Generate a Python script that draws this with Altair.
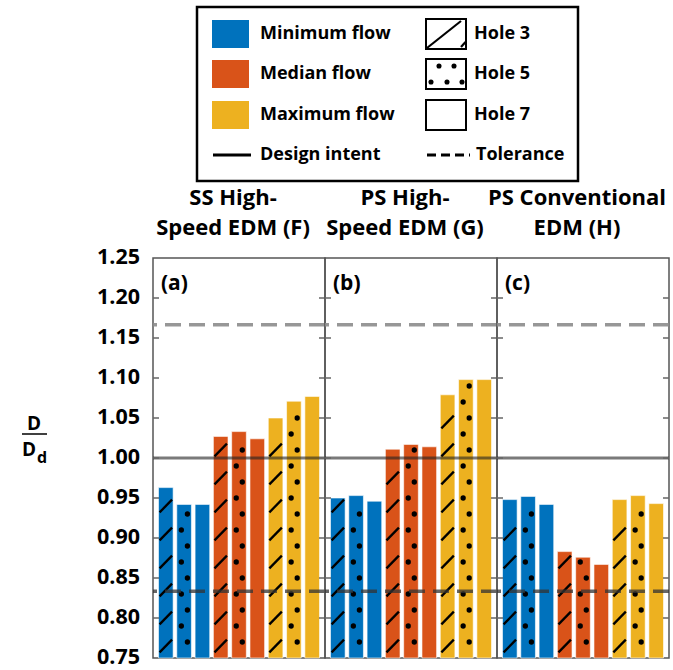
import altair as alt
import pandas as pd

# ---- data -------------------------------------------------------------
FLOWS = ["Minimum flow", "Median flow", "Maximum flow"]
HOLES = ["Hole 3", "Hole 5", "Hole 7"]
FLOW_COLORS = ["#0072BD", "#D95319", "#EDB120"]

PANEL_TITLES = [
    ["SS High-", "Speed EDM (F)"],
    ["PS High-", "Speed EDM (G)"],
    ["PS Conventional", "EDM (H)"],
]
PANEL_TAGS = ["(a)", "(b)", "(c)"]

# D / Dd, ordered flow by flow, hole 3 / 5 / 7 within each flow
SS_HIGH_SPEED_F = [0.963, 0.942, 0.942, 1.027, 1.033, 1.024, 1.050, 1.071, 1.077]
PS_HIGH_SPEED_G = [0.950, 0.953, 0.946, 1.011, 1.017, 1.014, 1.079, 1.098, 1.098]
PS_CONVENTIONAL_H = [0.948, 0.952, 0.942, 0.883, 0.876, 0.867, 0.948, 0.953, 0.943]
PANEL_VALUES = [SS_HIGH_SPEED_F, PS_HIGH_SPEED_G, PS_CONVENTIONAL_H]

DESIGN_INTENT = [1.0]
TOLERANCE_LOW = [0.8333]
TOLERANCE_HIGH = [1.1667]
Y_TICKS = [0.75, 0.80, 0.85, 0.90, 0.95, 1.00, 1.05, 1.10, 1.15, 1.20, 1.25]

LEGEND_FLOW_LABELS = FLOWS + ["Design intent"]
LEGEND_HOLE_LABELS = HOLES + ["Tolerance"]

# ---- styling / layout ---------------------------------------------------
FONT = "Open Sans"
PANEL_W, PANEL_H = 172, 400
Y_DOMAIN = [0.75, 1.25]
X_DOMAIN = [-0.7, 8.7]
HALF_BAR = 0.4
TITLE_LINE_Y = [-60, -30]   # panel title lines, px above the plot top
TITLE_SIZE = 22

XS = alt.Scale(domain=X_DOMAIN, nice=False, zero=False)
YS = alt.Scale(domain=Y_DOMAIN, nice=False, zero=False)
COLOR = alt.Scale(domain=FLOWS, range=FLOW_COLORS)

# fill-pattern geometry (data units)
SLASH_START, SLASH_STEP, SLASH_HALF_X, SLASH_HALF_Y = 0.765, 0.035, 0.34, 0.008
DOT_START, DOT_STEP = 0.77, 0.02
DOT_SHIFT = [0.18, -0.15]


def bar_table(vals):
    rows = []
    for i, v in enumerate(vals):
        f, h = divmod(i, 3)
        rows.append(dict(pos=i, flow=FLOWS[f], hole=HOLES[h], value=v))
    return pd.DataFrame(rows)


def slash_table(bars):
    rows = []
    for _, b in bars[bars.hole == "Hole 3"].iterrows():
        c = SLASH_START
        while c + SLASH_HALF_Y <= b.value:
            rows.append(dict(xa=b.pos - SLASH_HALF_X, xb=b.pos + SLASH_HALF_X,
                             ya=c - SLASH_HALF_Y, yb=c + SLASH_HALF_Y))
            c += SLASH_STEP
    return pd.DataFrame(rows)


def dot_table(bars):
    rows = []
    for _, b in bars[bars.hole == "Hole 5"].iterrows():
        k = 0
        y = DOT_START
        while y + 0.006 <= b.value:
            rows.append(dict(xd=b.pos + DOT_SHIFT[k % 2], yd=y))
            k += 1
            y = DOT_START + k * DOT_STEP
    return pd.DataFrame(rows)


def bold_text(size, align="center"):
    return dict(align=align, baseline="middle", font=FONT, fontWeight="bold",
                fontSize=size, color="black")


def panel(idx):
    bars = bar_table(PANEL_VALUES[idx])
    first = idx == 0

    bar_layer = alt.Chart(bars).transform_calculate(
        x0=f"datum.pos - {HALF_BAR}", x1=f"datum.pos + {HALF_BAR}", base="0.75"
    ).mark_rect(stroke="white", strokeWidth=0.6).encode(
        x=alt.X("x0:Q", scale=XS, axis=None),
        x2="x1:Q",
        y=alt.Y("value:Q", scale=YS, axis=None),
        y2="base:Q",
        color=alt.Color("flow:N", scale=COLOR, legend=None),
    )

    slashes = alt.Chart(slash_table(bars)).mark_rule(
        color="black", strokeWidth=2.3
    ).encode(
        x=alt.X("xa:Q", scale=XS, axis=None), x2="xb:Q",
        y=alt.Y("ya:Q", scale=YS, axis=None), y2="yb:Q",
    )

    dots = alt.Chart(dot_table(bars)).mark_circle(
        color="black", opacity=1, size=28
    ).encode(
        x=alt.X("xd:Q", scale=XS, axis=None),
        y=alt.Y("yd:Q", scale=YS, axis=None),
    )

    design = alt.Chart(pd.DataFrame({"y": DESIGN_INTENT})).mark_rule(
        color="#222222", opacity=0.6, strokeWidth=3
    ).encode(y=alt.Y("y:Q", scale=YS, axis=None))

    tol_low = alt.Chart(pd.DataFrame({"y": TOLERANCE_LOW})).mark_rule(
        color="#333333", opacity=0.75, strokeWidth=3.5, strokeDash=[16, 8]
    ).encode(y=alt.Y("y:Q", scale=YS, axis=None))

    tol_high = alt.Chart(pd.DataFrame({"y": TOLERANCE_HIGH})).mark_rule(
        color="#8c8c8c", opacity=0.9, strokeWidth=3.5, strokeDash=[16, 8]
    ).encode(y=alt.Y("y:Q", scale=YS, axis=None))

    ticks = pd.DataFrame({"t": Y_TICKS[1:-1]})
    tick_l = alt.Chart(ticks).mark_rule(color="#666666", strokeWidth=1.5).encode(
        y=alt.Y("t:Q", scale=YS, axis=None), x=alt.value(0), x2=alt.value(6))
    tick_r = alt.Chart(ticks).mark_rule(color="#666666", strokeWidth=1.5).encode(
        y=alt.Y("t:Q", scale=YS, axis=None),
        x=alt.value(PANEL_W - 6), x2=alt.value(PANEL_W))

    one = pd.DataFrame({"k": [0]})
    tag = alt.Chart(one).mark_text(**bold_text(21, "left")).encode(
        x=alt.value(8), y=alt.value(26), text=alt.value(PANEL_TAGS[idx]))

    title_lines = [
        alt.Chart(one).mark_text(**bold_text(TITLE_SIZE)).encode(
            x=alt.value(PANEL_W / 2 - 6), y=alt.value(ty), text=alt.value(line))
        for line, ty in zip(PANEL_TITLES[idx], TITLE_LINE_Y)
    ]

    layers = [bar_layer, slashes, dots, tol_low, tol_high, design,
              tick_l, tick_r, tag] + title_lines

    if first:
        # tick labels on the left of the first panel
        labels = alt.Chart(pd.DataFrame({"t": Y_TICKS})).transform_calculate(
            lbl="format(datum.t, '.2f')"
        ).mark_text(**bold_text(21.5, "right")).encode(
            y=alt.Y("t:Q", scale=YS, axis=None), x=alt.value(-13),
            text="lbl:N")
        # D / Dd axis title
        num = alt.Chart(one).mark_text(**bold_text(19)).encode(
            x=alt.value(-119), y=alt.value(166), text=alt.value("D"))
        frac = alt.Chart(one).mark_rule(color="black", strokeWidth=1.5).encode(
            x=alt.value(-131), x2=alt.value(-106), y=alt.value(176))
        den = alt.Chart(one).mark_text(**bold_text(19)).encode(
            x=alt.value(-124), y=alt.value(192), text=alt.value("D"))
        sub = alt.Chart(one).mark_text(**bold_text(16)).encode(
            x=alt.value(-111), y=alt.value(200), text=alt.value("d"))
        layers += [labels, num, frac, den, sub]

    return alt.layer(*layers).properties(width=PANEL_W, height=PANEL_H)


# ---- legend -------------------------------------------------------------
LEG_SHIFT = 44            # legend box starts this far right of panel (a)
LEG_BOX_W, LEG_H = 381, 174
LEG_W = LEG_SHIFT + LEG_BOX_W
COL_SWATCH_X = [LEG_SHIFT + 15, LEG_SHIFT + 229]
COL_TEXT_X = [LEG_SHIFT + 63, LEG_SHIFT + 279]
ROW_Y = [27, 67, 108, 148]

LX = alt.Scale(domain=[0, LEG_W], range=[0, LEG_W], nice=False, zero=False)
LY = alt.Scale(domain=[0, LEG_H], range=[0, LEG_H], nice=False, zero=False)

flow_sw = pd.DataFrame({
    "flow": FLOWS,
    "x0": [COL_SWATCH_X[0]] * 3, "x1": [COL_SWATCH_X[0] + 37] * 3,
    "y0": [r - 14 for r in ROW_Y[:3]], "y1": [r + 14 for r in ROW_Y[:3]],
})
hole_sw = pd.DataFrame({
    "hole": HOLES,
    "x0": [COL_SWATCH_X[1]] * 3, "x1": [COL_SWATCH_X[1] + 40] * 3,
    "y0": [r - 15 for r in ROW_Y[:3]], "y1": [r + 15 for r in ROW_Y[:3]],
})

hx, hy = COL_SWATCH_X[1], ROW_Y[0]
hatch_sw = pd.DataFrame({
    "xa": [hx + 1, hx + 35], "xb": [hx + 35, hx + 39.5],
    "ya": [hy + 14, hy + 13], "yb": [hy - 13, hy + 8],
})
dx_, dy_ = COL_SWATCH_X[1], ROW_Y[1] - 15
dot_sw = pd.DataFrame({
    "xd": [dx_ + 13, dx_ + 28, dx_ + 5, dx_ + 21, dx_ + 36],
    "yd": [dy_ + 7, dy_ + 7, dy_ + 23, dy_ + 23, dy_ + 23],
})
leg_text = pd.DataFrame({
    "label": LEGEND_FLOW_LABELS + LEGEND_HOLE_LABELS,
    "x": [COL_TEXT_X[0]] * 4 + [COL_TEXT_X[1] - 2] * 3 + [COL_TEXT_X[1]],
    "y": ROW_Y + ROW_Y,
})

one_row = pd.DataFrame({"k": [0]})
leg_box = alt.Chart(one_row).mark_rect(
    fill="white", stroke="black", strokeWidth=2.5
).encode(
    x=alt.value(LEG_SHIFT), x2=alt.value(LEG_W),
    y=alt.value(0), y2=alt.value(LEG_H),
)
leg_flow = alt.Chart(flow_sw).mark_rect().encode(
    x=alt.X("x0:Q", scale=LX, axis=None), x2="x1:Q",
    y=alt.Y("y0:Q", scale=LY, axis=None), y2="y1:Q",
    color=alt.Color("flow:N", scale=COLOR, legend=None),
)
leg_hole = alt.Chart(hole_sw).mark_rect(
    fill="white", stroke="black", strokeWidth=2
).encode(
    x=alt.X("x0:Q", scale=LX, axis=None), x2="x1:Q",
    y=alt.Y("y0:Q", scale=LY, axis=None), y2="y1:Q",
)
leg_hatch = alt.Chart(hatch_sw).mark_rule(color="black", strokeWidth=2.2).encode(
    x=alt.X("xa:Q", scale=LX, axis=None), x2="xb:Q",
    y=alt.Y("ya:Q", scale=LY, axis=None), y2="yb:Q",
)
leg_dots = alt.Chart(dot_sw).mark_circle(color="black", opacity=1, size=26).encode(
    x=alt.X("xd:Q", scale=LX, axis=None),
    y=alt.Y("yd:Q", scale=LY, axis=None),
)
line_df = pd.DataFrame({"xa": [COL_SWATCH_X[0] + 1], "xb": [COL_SWATCH_X[0] + 39],
                        "y": [ROW_Y[3]]})
leg_solid = alt.Chart(line_df).mark_rule(color="black", strokeWidth=3).encode(
    x=alt.X("xa:Q", scale=LX, axis=None), x2="xb:Q",
    y=alt.Y("y:Q", scale=LY, axis=None),
)
dash_df = pd.DataFrame({"xa": [COL_SWATCH_X[1] + 1], "xb": [COL_SWATCH_X[1] + 44],
                        "y": [ROW_Y[3]]})
leg_dash = alt.Chart(dash_df).mark_rule(
    color="black", strokeWidth=3, strokeDash=[9, 5]
).encode(
    x=alt.X("xa:Q", scale=LX, axis=None), x2="xb:Q",
    y=alt.Y("y:Q", scale=LY, axis=None),
)
leg_labels = alt.Chart(leg_text).mark_text(**bold_text(18, "left")).encode(
    x=alt.X("x:Q", scale=LX, axis=None),
    y=alt.Y("y:Q", scale=LY, axis=None),
    text="label:N",
)

legend = alt.layer(
    leg_box, leg_flow, leg_hole, leg_hatch, leg_dots, leg_solid, leg_dash,
    leg_labels
).properties(
    width=LEG_W, height=LEG_H,
    view=alt.ViewBackground(stroke="transparent"),
)

panels = alt.hconcat(panel(0), panel(1), panel(2), spacing=0, bounds="flush")

chart = alt.vconcat(legend, panels, spacing=77, bounds="flush").properties(
    padding={"left": 20, "top": 5, "right": 0, "bottom": 0},
    background="white",
).configure_view(stroke="#555555", strokeWidth=1.5)

chart.save("out.html", embed_options={"renderer": "svg", "actions": False})
